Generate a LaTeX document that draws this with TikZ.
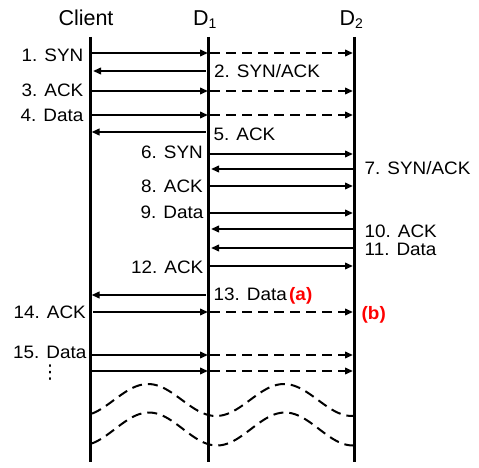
\documentclass[tikz,border=0pt]{standalone}
\usepackage{fontspec}
\setmainfont[FakeStretch=1.05]{Liberation Sans}
\newfontfamily\ttlfont{Liberation Sans}
\newfontfamily\symfont{DejaVu Sans}
\usetikzlibrary{arrows.meta}
\begin{document}
\begin{tikzpicture}[x=1pt,y=-1pt,
  lab/.style={inner sep=0pt, font=\fontsize{18}{20}\selectfont},
  ttl/.style={inner sep=0pt, font=\ttlfont\fontsize{21.5}{24}\selectfont},
  msg/.style={line width=2pt, -{Triangle[length=8pt,width=6.5pt]}},
  dmsg/.style={msg, dash pattern=on 10pt off 6pt},
  life/.style={line width=3pt},
  redmark/.style={inner sep=0pt, text=red, font=\fontsize{18}{20}\selectfont\bfseries},
  wave/.style={line width=2pt, dash pattern=on 10pt off 6pt}]
\useasboundingbox (0,0) rectangle (479,468);

% titles
\node[ttl, anchor=base] (tc) at (86,26) {Client};
\node[ttl, anchor=base west] (t1) at (193,26) {D\raisebox{-3pt}{\fontsize{14}{14}\selectfont 1}};
\node[ttl, anchor=base west] (t2) at (339.5,26) {D\raisebox{-3pt}{\fontsize{14}{14}\selectfont 2}};

% lifelines
\coordinate (cl) at (90.5,37);  \coordinate (clb) at (90.5,462);
\coordinate (d1) at (208,37);   \coordinate (d1b) at (208,462);
\coordinate (d2) at (354,37);   \coordinate (d2b) at (354,462);
\draw[life] (cl) -- (clb);
\draw[life] (d1) -- (d1b);
\draw[life] (d2) -- (d2b);

% 1. SYN
\draw[msg] (cl |- 0,53) -- (d1 |- 0,53);
\draw[dmsg, shorten <=2pt, shorten >=1pt] (d1 |- 0,53) -- (d2 |- 0,53);
\node[lab, anchor=base east] (l1) at (83.5,62) {1. SYN};
% 2. SYN/ACK
\draw[msg, shorten <=2pt, shorten >=2.5pt] (d1 |- 0,71) -- (cl |- 0,71);
\node[lab, anchor=base west] (l2) at (214,78) {2. SYN/ACK};
% 3. ACK
\draw[msg] (cl |- 0,91) -- (d1 |- 0,91);
\draw[dmsg, shorten <=2pt, shorten >=1pt] (d1 |- 0,91) -- (d2 |- 0,91);
\node[lab, anchor=base east] (l3) at (83.5,97) {3. ACK};
% 4. Data
\draw[msg] (cl |- 0,115) -- (d1 |- 0,115);
\draw[dmsg, shorten <=2pt, shorten >=1pt] (d1 |- 0,115) -- (d2 |- 0,115);
\node[lab, anchor=base east] (l4) at (83.5,122) {4. Data};
% 5. ACK
\draw[msg, shorten <=2.5pt, shorten >=1pt] (d1 |- 0,132) -- (cl |- 0,132);
\node[lab, anchor=base west] (l5) at (213.5,140) {5. ACK};
% 6. SYN
\draw[msg, shorten <=2pt, shorten >=1pt] (d1 |- 0,154) -- (d2 |- 0,154);
\node[lab, anchor=base east] (l6) at (203,158) {6. SYN};
% 7. SYN/ACK
\draw[msg, shorten <=1pt, shorten >=3pt] (d2 |- 0,169) -- (d1 |- 0,169);
\node[lab, anchor=base west] (l7) at (364.5,175) {7. SYN/ACK};
% 8. ACK
\draw[msg, shorten <=2pt, shorten >=1pt] (d1 |- 0,186) -- (d2 |- 0,186);
\node[lab, anchor=base east] (l8) at (203,192) {8. ACK};
% 9. Data
\draw[msg, shorten <=2pt, shorten >=1pt] (d1 |- 0,213) -- (d2 |- 0,213);
\node[lab, anchor=base east] (l9) at (203.5,218) {9. Data};
% 10. ACK
\draw[msg, shorten <=1pt, shorten >=3pt] (d2 |- 0,229) -- (d1 |- 0,229);
\node[lab, anchor=base west] (l10) at (364.5,237) {10. ACK};
% 11. Data
\draw[msg, shorten <=1pt, shorten >=3pt] (d2 |- 0,248) -- (d1 |- 0,248);
\node[lab, anchor=base west] (l11) at (364.5,255) {11. Data};
% 12. ACK
\draw[msg, shorten <=2pt, shorten >=1pt] (d1 |- 0,266) -- (d2 |- 0,266);
\node[lab, anchor=base east] (l12) at (203.5,273) {12. ACK};
% 13. Data
\draw[msg, shorten <=2.5pt, shorten >=1pt] (d1 |- 0,295) -- (cl |- 0,295);
\node[lab, anchor=base west] (l13) at (213.5,300) {13. Data};
\node[redmark, anchor=base west] (ma) at (289,300) {(a)};
% 14. ACK
\draw[msg, shorten <=2.5pt] (cl |- 0,312) -- (d1 |- 0,312);
\draw[dmsg, shorten <=2pt, shorten >=1pt] (d1 |- 0,312) -- (d2 |- 0,312);
\node[lab, anchor=base east] (l14) at (86,318) {14. ACK};
\node[redmark, anchor=base west] (mb) at (361.5,319) {(b)};
% 15. Data
\draw[msg] (cl |- 0,355) -- (d1 |- 0,355);
\draw[dmsg, shorten <=2pt, shorten >=1pt] (d1 |- 0,355) -- (d2 |- 0,355);
\node[lab, anchor=base east] (l15) at (86.5,358) {15. Data};
% next
\draw[msg] (cl |- 0,371) -- (d1 |- 0,371);
\draw[dmsg, shorten <=2pt, shorten >=1pt] (d1 |- 0,371) -- (d2 |- 0,371);
\node[inner sep=0pt, font=\symfont\fontsize{19}{19}\selectfont] (dots) at (50,373) {⋮};

% waves
\draw[wave] plot[domain=92:353, samples=90, smooth] (\x, {400-16*cos((\x-148)/136*360)});
\draw[wave] plot[domain=92:353, samples=90, smooth] (\x, {429-16.5*cos((\x-149)/136*360)});
\end{tikzpicture}
\end{document}
